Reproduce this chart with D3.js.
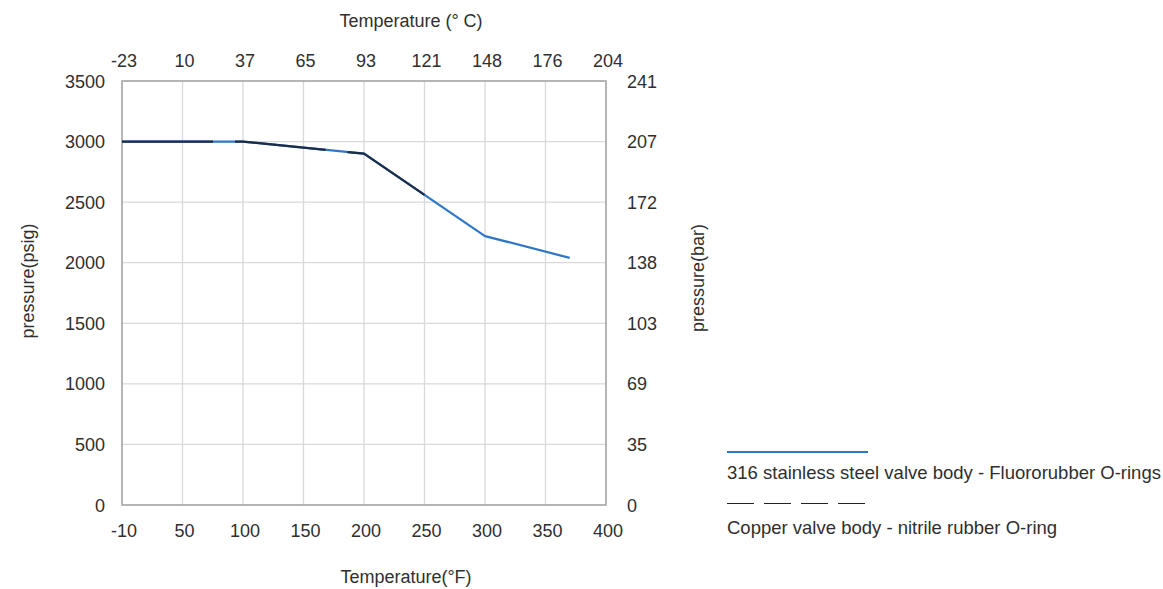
<!DOCTYPE html>
<html><head><meta charset="utf-8">
<script src="https://cdn.jsdelivr.net/npm/d3@7"></script>
<style>body{margin:0;background:#fff;}text{font-family:"Liberation Sans",Arial,sans-serif;fill:#2f2f2f;}</style>
</head><body><svg id="c" width="1163" height="589"></svg>
<script>
const fTicks = [-10, 50, 100, 150, 200, 250, 300, 350, 400];
const cTickLabels = ["-23", "10", "37", "65", "93", "121", "148", "176", "204"];
const psiTicks = [0, 500, 1000, 1500, 2000, 2500, 3000, 3500];
const barTickLabels = ["0", "35", "69", "103", "138", "172", "207", "241"];
const stainlessX = [-10, 100, 200, 300, 370];
const stainlessY = [3000, 3000, 2900, 2220, 2040];
const copperX = [-10, 100, 200, 250];
const copperY = [3000, 3000, 2900, 2560];
const seriesNames = ["316 stainless steel valve body - Fluororubber O-rings", "Copper valve body - nitrile rubber O-ring"];

const svg = d3.select("#c");
const L = 122, R = 606, T = 81, B = 505;
const x = d3.scaleLinear().domain([-10, 50, 400]).range([L, L + (R - L) / 8, R]);
const y = d3.scaleLinear().domain([0, 3500]).range([B, T]);

// grid
svg.append("g").selectAll("line").data(fTicks).join("line")
  .attr("x1", d => x(d)).attr("x2", d => x(d)).attr("y1", T).attr("y2", B)
  .attr("stroke", "#d9d9d9").attr("stroke-width", 1.3);
svg.append("g").selectAll("line").data(psiTicks).join("line")
  .attr("x1", L).attr("x2", R).attr("y1", d => y(d)).attr("y2", d => y(d))
  .attr("stroke", "#d9d9d9").attr("stroke-width", 1.3);
svg.append("rect").attr("x", L).attr("y", T).attr("width", R - L).attr("height", B - T)
  .attr("fill", "none").attr("stroke", "#a6a6a6").attr("stroke-width", 1.5);

const fs = 18;
// bottom ticks
svg.append("g").selectAll("text").data(fTicks).join("text")
  .attr("x", d => x(d) + 2).attr("y", 537).attr("text-anchor", "middle").attr("font-size", fs).text(d => d);
// top ticks
svg.append("g").selectAll("text").data(fTicks).join("text")
  .attr("x", d => x(d) + 2).attr("y", 67).attr("text-anchor", "middle").attr("font-size", fs).text((d, i) => cTickLabels[i]);
// left ticks
svg.append("g").selectAll("text").data(psiTicks).join("text")
  .attr("x", 105).attr("y", d => y(d) + 6.5).attr("text-anchor", "end").attr("font-size", fs).text(d => d);
// right ticks
svg.append("g").selectAll("text").data(psiTicks).join("text")
  .attr("x", 627).attr("y", d => y(d) + 6.5).attr("text-anchor", "start").attr("font-size", fs).text((d, i) => barTickLabels[i]);

// titles
svg.append("text").attr("x", 411).attr("y", 27).attr("text-anchor", "middle").attr("font-size", fs).text("Temperature (° C)");
svg.append("text").attr("x", 406).attr("y", 583).attr("text-anchor", "middle").attr("font-size", fs).text("Temperature(°F)");
svg.append("text").attr("transform", "translate(34,281) rotate(-90)").attr("text-anchor", "middle").attr("font-size", fs).text("pressure(psig)");
svg.append("text").attr("transform", "translate(704,278) rotate(-90)").attr("text-anchor", "middle").attr("font-size", fs).text("pressure(bar)");

const line = d3.line().x(d => x(d[0])).y(d => y(d[1]));
const sData = stainlessX.map((v, i) => [v, stainlessY[i]]);
const cData = copperX.map((v, i) => [v, copperY[i]]);
svg.append("path").datum(sData).attr("d", line).attr("fill", "none")
  .attr("stroke", "#2e77c6").attr("stroke-width", 2.2).attr("stroke-linejoin", "round");
svg.append("path").datum(cData).attr("d", line).attr("fill", "none")
  .attr("stroke", "#1b2d48").attr("stroke-width", 2.2).attr("stroke-dasharray", "91,22");

// legend
svg.append("line").attr("x1", 727).attr("x2", 868).attr("y1", 452).attr("y2", 452)
  .attr("stroke", "#2e77c6").attr("stroke-width", 2.2);
svg.append("text").attr("x", 727).attr("y", 479).attr("font-size", 18.5).text(seriesNames[0]);
svg.append("line").attr("x1", 727).attr("x2", 868).attr("y1", 503.5).attr("y2", 503.5)
  .attr("stroke", "#222").attr("stroke-width", 1).attr("stroke-dasharray", "27,10");
svg.append("text").attr("x", 727).attr("y", 534).attr("font-size", 18.5).text(seriesNames[1]);
</script></body></html>
